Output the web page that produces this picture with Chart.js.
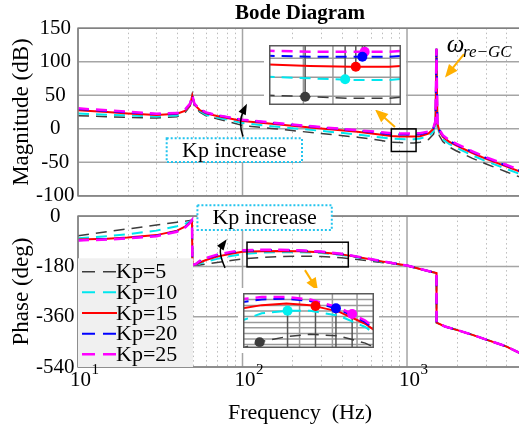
<!DOCTYPE html>
<html>
<head>
<meta charset="utf-8">
<script src="https://cdn.jsdelivr.net/npm/chart.js@4.4.1/dist/chart.umd.min.js"></script>
<style>
  html, body { margin: 0; padding: 0; background: #fff; overflow: hidden; }
  #wrap { position: relative; width: 519px; height: 426px; overflow: hidden; }
  canvas { position: absolute; }
</style>
</head>
<body>
<div id="wrap">
  <canvas id="magChart" width="522" height="212" style="left:0;top:0"></canvas>
  <canvas id="phaseChart" width="522" height="226" style="left:0;top:200px"></canvas>
  <canvas id="magInset" width="142" height="70" style="left:264px;top:40px"></canvas>
  <canvas id="phaseInset" width="141" height="65" style="left:238px;top:288px"></canvas>
</div>
<script>
const seriesNames = ['Kp=5', 'Kp=10', 'Kp=15', 'Kp=20', 'Kp=25'];
const freqTicks = [10, 100, 1000];

// magnitude (dB)
const magFreq = [10, 15, 20, 30, 40, 45, 48, 49.5, 51, 55, 60, 70, 100, 150, 200, 300, 500, 700, 800, 900,
                 1000, 1100, 1200, 1350, 1450, 1490, 1510, 1530, 1570, 1650, 1800, 2000, 2500, 3000, 4000, 5000];
const magKp5  = [19.5, 18, 17, 16, 18, 25, 34, 50, 34, 25, 19.5, 15, 5, 0.5, -2.5, -7, -12.5, -17.5, -20, -20.5,
                 -21, -21, -20, -16, -8, 4, 119.5, 2, -10, -19, -27, -33, -44, -52, -64, -73];
const magKp10 = [23, 21, 20, 18.5, 20, 26.5, 35, 50, 35, 26.5, 21, 17, 8.5, 4, 1, -3, -8.5, -13, -14.5, -15,
                 -15.5, -15.5, -14.5, -11, -3.5, 7, 119.5, 5, -6.5, -15.5, -22.5, -28.5, -39.5, -48, -59.5, -68.5];
const magKp15 = [27.5, 25, 23, 20.5, 22.5, 27, 35, 50, 36, 28, 23, 19, 11.5, 7.5, 4.5, 0.5, -4.5, -9, -10.8, -11.3,
                 -11.5, -11.5, -11, -7, 0, 10, 119.5, 8, -3, -12, -19, -25, -36, -44.5, -56, -65];
const magKp20 = [29.5, 26.5, 24.5, 22, 23, 29, 37, 50, 37, 29, 24, 20, 13, 9, 6, 2, -2.5, -6.5, -8.2, -8.5,
                 -8.5, -8.5, -8, -5, 1.5, 11, 119.5, 9, -1.5, -10.5, -17.5, -23.5, -34.5, -43, -54.5, -63.5];
const magKp25 = [30.5, 27.5, 25.5, 22.5, 23.5, 29.5, 37.5, 50, 37.5, 29.5, 24.5, 20.5, 13.5, 9.5, 6.5, 2.5, -2, -5, -6.7, -7,
                 -7, -7, -6.5, -4, 2.5, 12, 119.5, 10, -0.5, -9.5, -16.5, -22.5, -33.5, -42, -53.5, -62.5];

// phase (deg)
const phaseFreq = [10, 15, 20, 30, 40, 45, 48, 49.3, 49.6, 52, 55, 60, 70, 85, 100, 130, 170, 220, 300, 400,
                   500, 700, 1000, 1200, 1400, 1510, 1512, 1700, 2000, 2500, 3000, 4000, 5000];
const phaseKp5  = [-70, -56, -46, -32, -22, -18, -16, -13, -176, -176, -175, -172, -166, -159, -153, -148, -145, -143.5, -144.5, -149,
                   -155, -166, -177, -189, -199, -204, -381, -395, -407, -425, -441, -466, -494];
const phaseKp10 = [-79, -72, -65, -52, -36, -27, -19, -14, -175, -174, -170, -163, -153, -143, -136, -130.5, -129, -129, -132, -139,
                   -148, -163, -177, -189, -199, -204, -381, -395, -407, -425, -441, -466, -494];
const phaseKp15 = [-84, -81, -77, -68, -52, -37, -22, -14, -175, -173, -166, -157, -145, -135, -128, -125.5, -124.5, -125.5, -129.5, -137,
                   -146, -162, -177, -189, -199, -204, -381, -395, -407, -425, -441, -466, -494];
const phaseKp20 = [-86, -83, -79, -70, -54, -39, -23, -15, -175, -172, -162, -152, -140, -130, -124, -122, -121.5, -123, -128, -136,
                   -145.5, -161.5, -177, -189, -199, -204, -381, -395, -407, -425, -441, -466, -494];
const phaseKp25 = [-87, -84, -80, -72, -56, -40, -24, -15, -175, -171, -160, -150, -138, -128, -122, -120.5, -120.5, -122, -127, -135,
                   -145, -161, -177, -189, -199, -204, -381, -395, -407, -425, -441, -466, -494];

// highlighted points in the two zoom insets
const magMarkFreq = [889, 984, 1011, 1028, 1034];
const magMarkVal = [-20.5, -15.3, -11.5, -8.5, -7];
const phaseMarkFreq = [127, 172, 233, 291, 347];
const phaseMarkVal = [-148.5, -129, -126, -127.5, -131];

// inset grid lines
const magInsetXGrid = [885, 954, 1104];
const magInsetYGrid = [-9, -14.7, -20.4];
const phaseInsetXGrid = [196, 280, 366];
const phaseInsetYGrid = [-122, -125.8, -129.2, -132.5, -136.2, -139.5, -143, -146.4, -149.9];

const lineColors = ['#3c3c3c', '#00e6ee', '#ff0000', '#0000ff', '#ff00ff'];
const markColors = ['#3c3c3c', '#00f0f0', '#ff0000', '#0000ff', '#ff00ff'];
const lineWidths = [1.5, 2, 2, 2, 2.5];
const lineDashes = [[11, 7], [11, 7], [], [11, 7], [11, 7]];
const orange = '#ffb000';
const serif = '"Liberation Serif", "Times New Roman", Times, serif';

Chart.defaults.font.family = serif;
Chart.defaults.color = '#000';

function sf(size, weight) {
    return { family: serif, size: size, weight: weight || 'normal' };
}

function lineSets(freq, all) {
    return all.map((vals, i) => ({
        label: seriesNames[i],
        data: freq.map((f, j) => ({ x: f, y: vals[j] })),
        borderColor: lineColors[i],
        borderWidth: lineWidths[i],
        borderDash: lineDashes[i],
        pointRadius: 0,
        tension: 0,
        fill: false,
        order: 5 - i
    }));
}

function markSets(freq, vals) {
    return freq.map((f, i) => ({
        label: seriesNames[i] + ' mark',
        isMarker: true,
        data: [{ x: f, y: vals[i] }],
        showLine: false,
        pointRadius: 5,
        pointBackgroundColor: markColors[i],
        pointBorderColor: markColors[i],
        pointBorderWidth: 0,
        order: 0
    }));
}

function seg(ctx, x1, y1, x2, y2) {
    ctx.beginPath();
    ctx.moveTo(x1, y1);
    ctx.lineTo(x2, y2);
    ctx.stroke();
}

function head(ctx, tx, ty, ang, len, wid) {
    const c = Math.cos(ang), s = Math.sin(ang);
    ctx.beginPath();
    ctx.moveTo(tx, ty);
    ctx.lineTo(tx - len * c + wid / 2 * s, ty - len * s - wid / 2 * c);
    ctx.lineTo(tx - len * c - wid / 2 * s, ty - len * s + wid / 2 * c);
    ctx.closePath();
    ctx.fill();
}

function arrow(ctx, x1, y1, x2, y2, color, w, len, wid) {
    const ang = Math.atan2(y2 - y1, x2 - x1);
    ctx.strokeStyle = color; ctx.fillStyle = color; ctx.lineWidth = w;
    seg(ctx, x1, y1, x2 - len * 0.8 * Math.cos(ang), y2 - len * 0.8 * Math.sin(ang));
    head(ctx, x2, y2, ang, len, wid);
}

function bentArrow(ctx, x1, y1, cx, cy, x2, y2, color, w, len, wid) {
    const ang = Math.atan2(y2 - cy, x2 - cx);
    ctx.strokeStyle = color; ctx.fillStyle = color; ctx.lineWidth = w;
    ctx.beginPath();
    ctx.moveTo(x1, y1);
    ctx.quadraticCurveTo(cx, cy, x2 - len * 0.8 * Math.cos(ang), y2 - len * 0.8 * Math.sin(ang));
    ctx.stroke();
    head(ctx, x2, y2, ang, len, wid);
}

function textBox(ctx, x1, y1, x2, y2, text) {
    ctx.fillStyle = '#fff';
    ctx.fillRect(x1, y1, x2 - x1, y2 - y1);
    ctx.setLineDash([2, 2]);
    ctx.strokeStyle = '#22c4ee';
    ctx.lineWidth = 2;
    ctx.strokeRect(x1, y1, x2 - x1, y2 - y1);
    ctx.setLineDash([]);
    ctx.fillStyle = '#000';
    ctx.font = '22px ' + serif;
    ctx.textAlign = 'center';
    ctx.textBaseline = 'middle';
    ctx.fillText(text, (x1 + x2) / 2, (y1 + y2) / 2 + 1);
}

function drawFrame(chart) {
    const { ctx, chartArea: a } = chart;
    ctx.strokeStyle = '#808080';
    ctx.lineWidth = 1.5;
    ctx.setLineDash([]);
    ctx.strokeRect(a.left, a.top, a.right - a.left, a.bottom - a.top);
}

// MATLAB style grid: solid decades and dotted minor lines
const bodeGrid = {
    id: 'bodeGrid',
    beforeDatasetsDraw(chart) {
        const { ctx, chartArea: a, scales: { x, y } } = chart;
        ctx.save();
        ctx.lineWidth = 1;
        ctx.strokeStyle = '#bcbcbc';
        ctx.setLineDash([1.5, 3]);
        for (let d = 10; d < x.max; d *= 10) {
            for (let m = 2; m <= 9; m++) {
                if (m * d >= x.max) break;
                const px = Math.round(x.getPixelForValue(m * d)) + 0.5;
                seg(ctx, px, a.top, px, a.bottom);
            }
        }
        ctx.setLineDash([]);
        ctx.strokeStyle = '#a5a5a5';
        ctx.lineWidth = 1.5;
        freqTicks.forEach(v => {
            const px = x.getPixelForValue(v);
            seg(ctx, px, a.top, px, a.bottom);
        });
        y.ticks.forEach(t => {
            const py = y.getPixelForValue(t.value);
            seg(ctx, a.left, py, a.right, py);
        });
        ctx.restore();
    }
};

const magNotes = {
    id: 'magNotes',
    afterDatasetsDraw(chart) {
        const { ctx, scales: { x, y } } = chart;
        const X = v => x.getPixelForValue(v), Y = v => y.getPixelForValue(v);
        ctx.save();
        drawFrame(chart);
        ctx.strokeStyle = '#000';
        ctx.lineWidth = 1.5;
        ctx.strokeRect(X(803), Y(-0.1), X(1135) - X(803), Y(-33.8) - Y(-0.1));
        textBox(ctx, X(34.6), Y(-14.2), X(230), Y(-49.4), 'Kp increase');
        bentArrow(ctx, X(100.7), Y(-11.6), X(93.9), Y(10), X(106.4), Y(37.5), '#000', 1.5, 11, 8);
        arrow(ctx, X(845), Y(2.6), X(639), Y(28.8), orange, 2, 13, 11);
        arrow(ctx, X(2221), Y(111.3), X(1702), Y(76.6), orange, 2, 13, 11);
        ctx.fillStyle = '#000';
        ctx.textAlign = 'left';
        ctx.textBaseline = 'alphabetic';
        ctx.font = 'italic 25px ' + serif;
        ctx.fillText('ω', X(1743), Y(115));
        ctx.font = 'italic 17px ' + serif;
        ctx.fillText('re\u2212GC', X(2189), Y(106.5));
        ctx.restore();
    }
};

const phaseNotes = {
    id: 'phaseNotes',
    afterDatasetsDraw(chart) {
        const { ctx, chartArea: a, scales: { x, y } } = chart;
        const X = v => x.getPixelForValue(v), Y = v => y.getPixelForValue(v);
        ctx.save();
        drawFrame(chart);
        ctx.strokeStyle = '#000';
        ctx.lineWidth = 1.5;
        ctx.strokeRect(X(106.5), Y(-93.4), X(439.6) - X(106.5), Y(-181.8) - Y(-93.4));
        textBox(ctx, X(53.2), Y(38.9), X(348.9), Y(-49.5), 'Kp increase');
        bentArrow(ctx, X(78.3), Y(-185.3), X(70.9), Y(-126.2), X(80.2), Y(-82.7), '#000', 1.5, 11, 8);
        arrow(ctx, X(239.7), Y(-193.4), X(287.7), Y(-267.7), orange, 2, 13, 11);

        // legend
        const lx = a.left, ly = a.bottom - 108.7, lw = 115;
        ctx.fillStyle = '#f0f0f0';
        ctx.fillRect(lx, ly, lw, a.bottom - ly);
        ctx.font = '22px ' + serif;
        ctx.textAlign = 'left';
        ctx.textBaseline = 'middle';
        seriesNames.forEach((name, i) => {
            const yy = ly + 13.4 + i * 20.65;
            ctx.strokeStyle = lineColors[i];
            ctx.lineWidth = lineWidths[i];
            ctx.setLineDash(lineDashes[i].length ? [13, 8] : []);
            seg(ctx, lx + 4, yy, lx + 39, yy);
            ctx.setLineDash([]);
            ctx.fillStyle = '#000';
            ctx.fillText(name, lx + 38, yy + 1);
        });
        ctx.restore();
    },
    afterDraw(chart) {
        const { ctx, chartArea: a, scales: { x } } = chart;
        ctx.save();
        ctx.fillStyle = '#000';
        ctx.textBaseline = 'alphabetic';
        freqTicks.forEach(v => {
            const px = x.getPixelForValue(v);
            const k = String(Math.round(Math.log10(v)));
            ctx.font = '21px ' + serif;
            ctx.textAlign = 'center';
            const w = ctx.measureText('10').width;
            ctx.fillText('10', px + 2.5, a.bottom + 18.7);
            ctx.font = '15px ' + serif;
            ctx.textAlign = 'left';
            ctx.fillText(k, px + 2.5 + w / 2 + 0.5, a.bottom + 6.5);
        });
        ctx.restore();
    }
};

function insetDecor(xGrid, yGrid, stemUp) {
    return {
        id: 'insetDecor',
        beforeDraw(chart) {
            chart.ctx.fillStyle = '#fff';
            chart.ctx.fillRect(0, 0, chart.width, chart.height);
        },
        beforeDatasetsDraw(chart) {
            const { ctx, chartArea: a, scales: { x, y } } = chart;
            ctx.save();
            ctx.strokeStyle = '#9a9a9a';
            ctx.lineWidth = 1.5;
            xGrid.forEach(v => { const px = x.getPixelForValue(v); seg(ctx, px, a.top, px, a.bottom); });
            yGrid.forEach(v => { const py = y.getPixelForValue(v); seg(ctx, a.left, py, a.right, py); });
            ctx.strokeStyle = '#555';
            chart.data.datasets.forEach((ds, i) => {
                if (!ds.isMarker) return;
                const el = chart.getDatasetMeta(i).data[0];
                seg(ctx, el.x, el.y, el.x, stemUp ? a.top : a.bottom);
            });
            ctx.restore();
        },
        afterDatasetsDraw(chart) {
            const { ctx, chartArea: a } = chart;
            ctx.save();
            ctx.strokeStyle = '#5a5a5a';
            ctx.lineWidth = 1.5;
            ctx.strokeRect(a.left + 0.75, a.top + 0.75, a.right - a.left - 1.5, a.bottom - a.top - 1.5);
            ctx.restore();
        }
    };
}

function mainOptions(c) {
    return {
        responsive: false,
        animation: false,
        devicePixelRatio: 1,
        events: [],
        font: sf(21),
        layout: { padding: { top: c.padTop, left: 0, right: 0, bottom: 0 } },
        plugins: { legend: { display: false }, tooltip: { enabled: false }, title: c.title },
        scales: {
            x: {
                type: 'logarithmic', min: 10, max: 5000,
                grid: { display: false, drawTicks: false }, border: { display: false },
                ticks: { display: false, font: sf(21) },
                title: c.xTitle,
                afterFit: s => { s.height = c.xHeight; }
            },
            y: {
                type: 'linear', min: c.yMin, max: c.yMax,
                grid: { display: false, drawTicks: false }, border: { display: false },
                ticks: { stepSize: c.yStep, padding: 3.5, crossAlign: 'center', color: '#000', font: sf(21) },
                title: { display: true, text: c.yTitle, color: '#000', font: sf(23), padding: { top: 8, bottom: 0 } },
                afterFit: s => { s.width = 78; }
            }
        }
    };
}

function insetOptions(xr, yr) {
    return {
        responsive: false,
        animation: false,
        devicePixelRatio: 1,
        events: [],
        layout: { padding: 0 },
        plugins: { legend: { display: false }, tooltip: { enabled: false } },
        scales: {
            x: { type: 'logarithmic', min: xr[0], max: xr[1], display: false },
            y: { type: 'linear', min: yr[0], max: yr[1], display: false }
        }
    };
}

const magAll = [magKp5, magKp10, magKp15, magKp20, magKp25];
const phaseAll = [phaseKp5, phaseKp10, phaseKp15, phaseKp20, phaseKp25];

new Chart(document.getElementById('magChart'), {
    type: 'line',
    data: { datasets: lineSets(magFreq, magAll) },
    options: mainOptions({
        padTop: 0, xHeight: 11, yMin: -100, yMax: 150, yStep: 50, yTitle: 'Magnitude (dB)',
        xTitle: { display: false },
        title: { display: true, text: 'Bode Diagram', color: '#000', fullSize: false,
                 font: sf(21, 'bold'), padding: { top: 1, bottom: 2 } }
    }),
    plugins: [bodeGrid, magNotes]
});

new Chart(document.getElementById('phaseChart'), {
    type: 'line',
    data: { datasets: lineSets(phaseFreq, phaseAll) },
    options: mainOptions({
        padTop: 14.3, xHeight: 59, yMin: -540, yMax: 0, yStep: 180, yTitle: 'Phase (deg)',
        xTitle: { display: true, text: 'Frequency  (Hz)', color: '#000', font: sf(22), padding: { top: 6, bottom: 0 } },
        title: { display: false }
    }),
    plugins: [bodeGrid, phaseNotes]
});

new Chart(document.getElementById('magInset'), {
    type: 'line',
    data: { datasets: lineSets(magFreq, magAll).concat(markSets(magMarkFreq, magMarkVal)) },
    options: insetOptions([811, 1134], [-23, -5]),
    plugins: [insetDecor(magInsetXGrid, magInsetYGrid, true)]
});

new Chart(document.getElementById('phaseInset'), {
    type: 'line',
    data: { datasets: lineSets(phaseFreq, phaseAll).concat(markSets(phaseMarkFreq, phaseMarkVal)) },
    options: insetOptions([106, 440], [-152, -118]),
    plugins: [insetDecor(phaseInsetXGrid, phaseInsetYGrid, false)]
});
</script>
</body>
</html>
